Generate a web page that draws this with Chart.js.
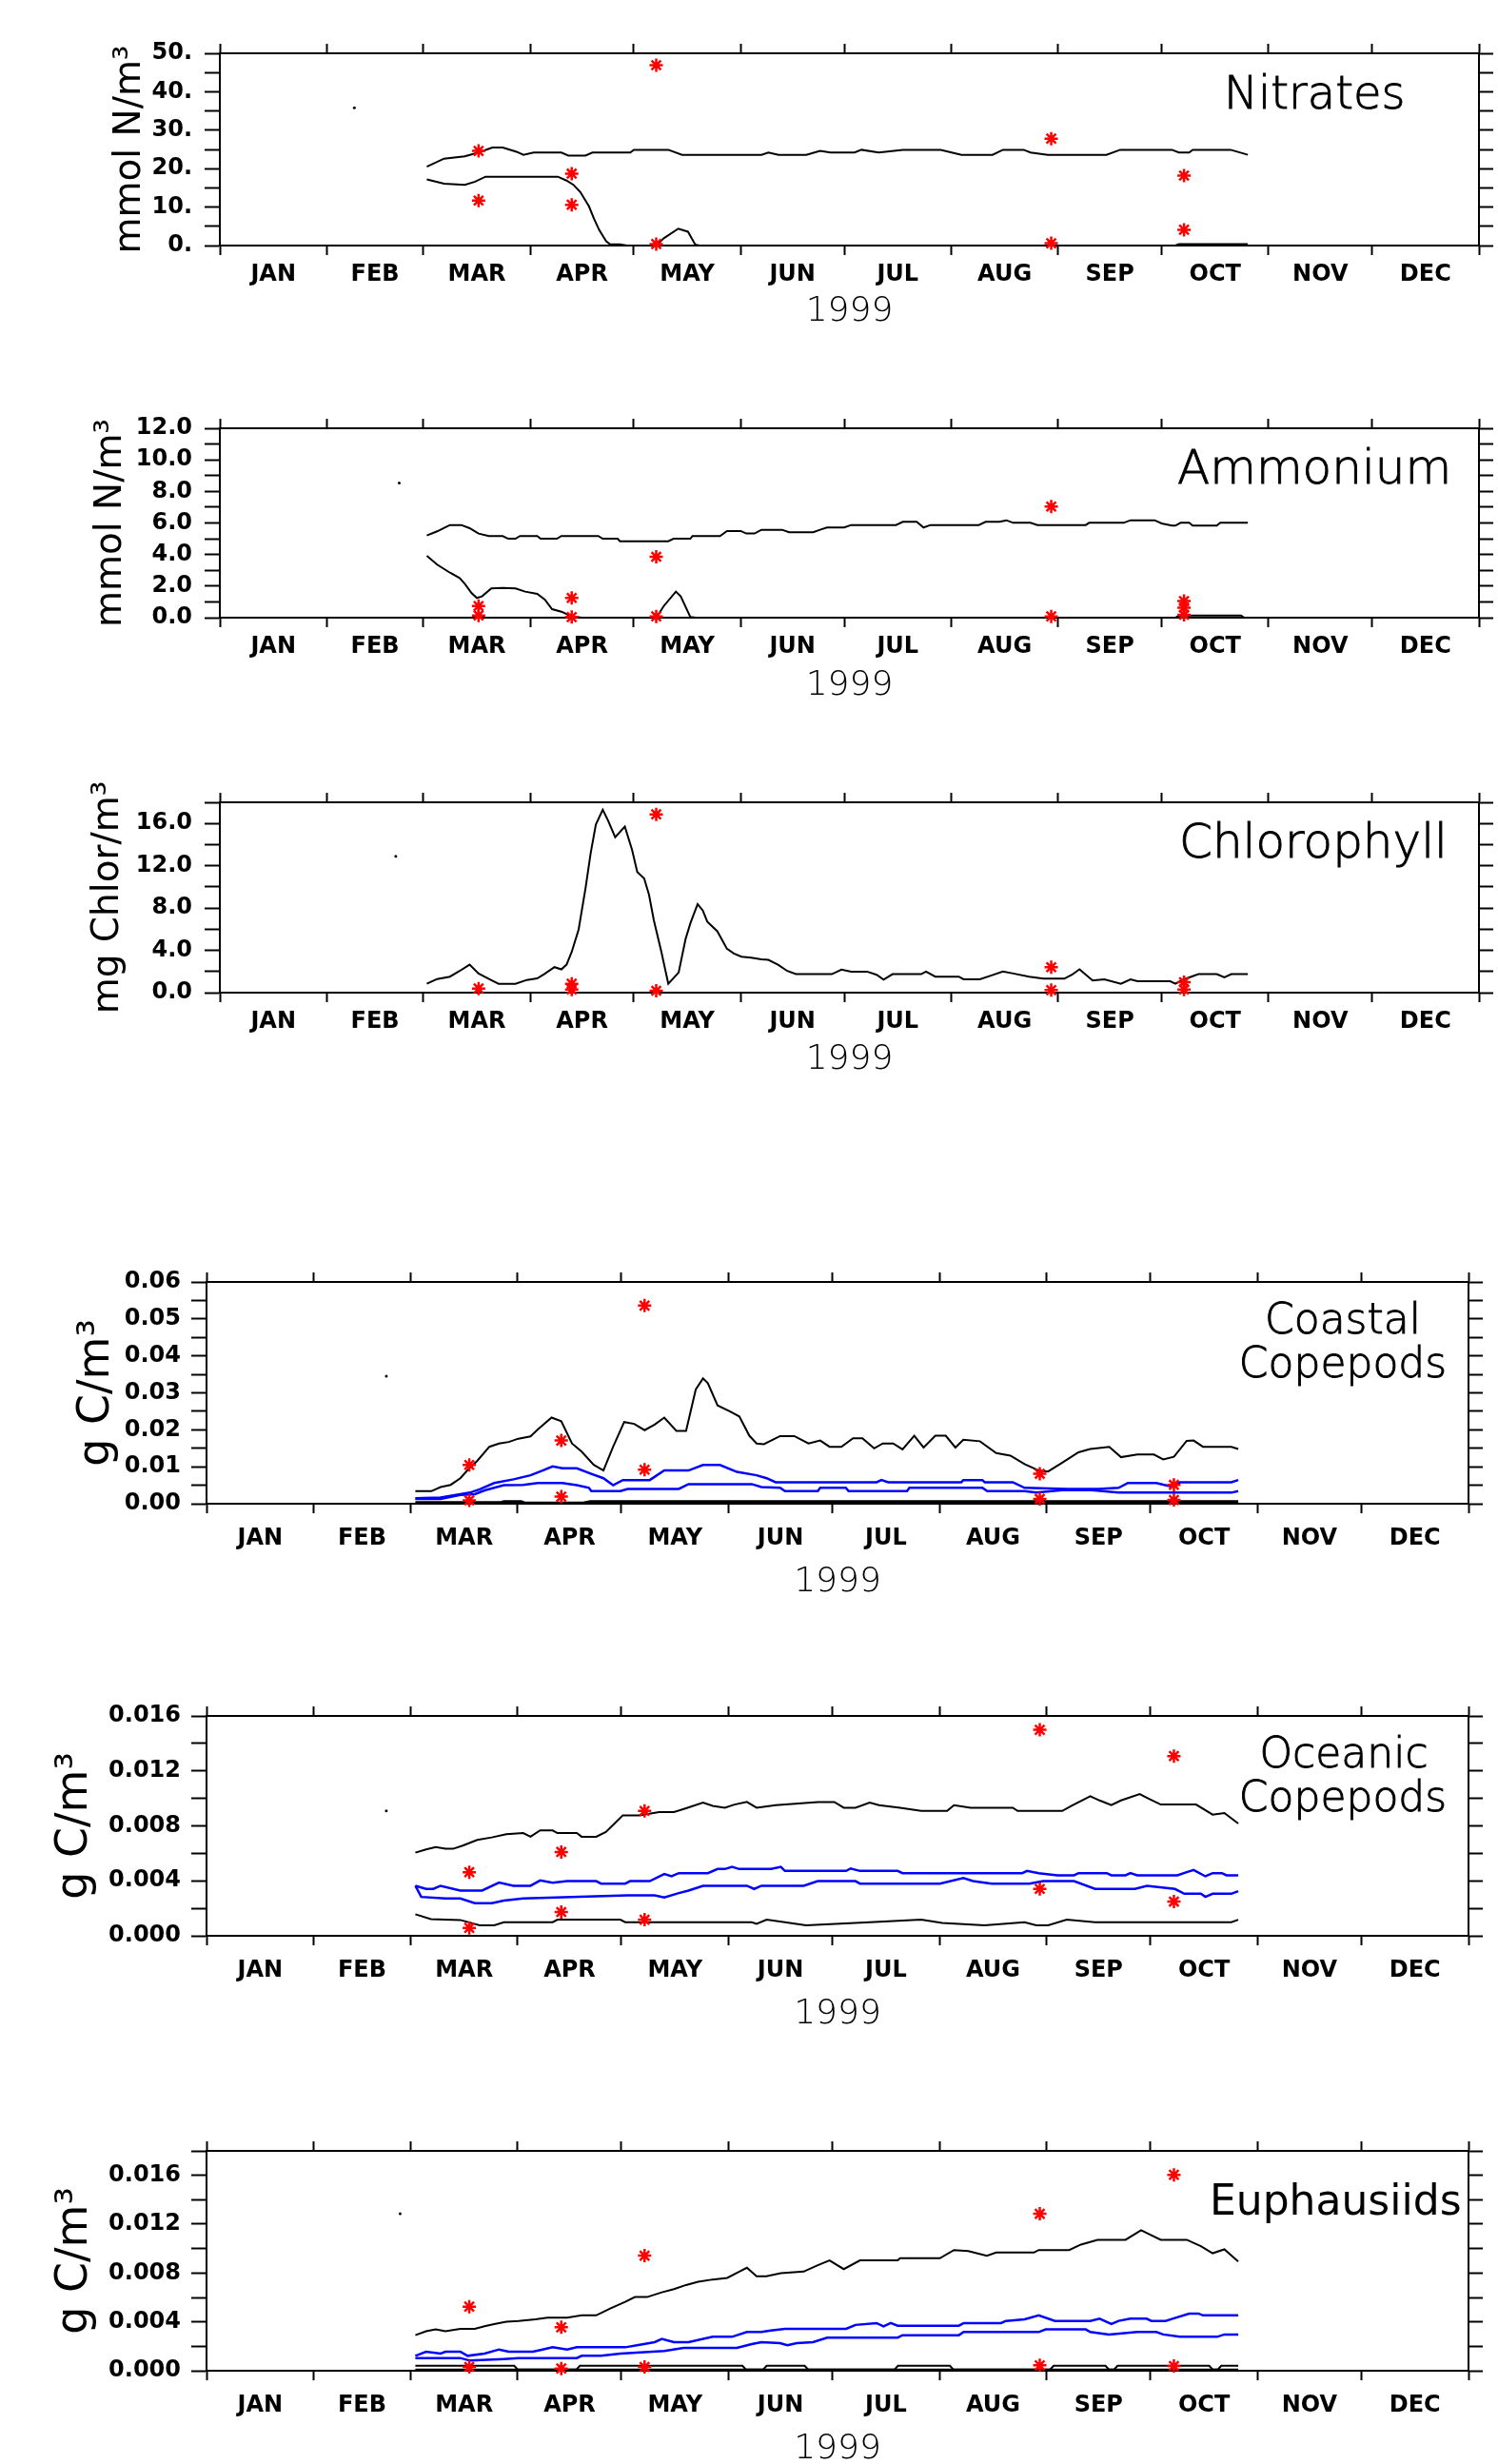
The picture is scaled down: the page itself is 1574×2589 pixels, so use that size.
<!DOCTYPE html>
<html>
<head>
<meta charset="utf-8">
<script src="https://cdn.jsdelivr.net/npm/chart.js@4.4.1/dist/chart.umd.min.js"></script>
<style>
  body { margin: 0; background: #fff; }
  #page { position: relative; width: 1574px; height: 2589px; overflow: hidden; background: #fff; }
  #page canvas { position: absolute; left: 0; }
</style>
</head>
<body>
<div id="page"></div>
<script>
// ---- x axis: day of year 1999 ----
const monthNames = ["JAN", "FEB", "MAR", "APR", "MAY", "JUN", "JUL", "AUG", "SEP", "OCT", "NOV", "DEC"];
const monthStarts = [0, 31, 59, 90, 120, 151, 181, 212, 243, 273, 304, 334, 365];
const yearLabel = "1999";

// ---- Nitrates (mmol N/m3) ----
const nitratesMax = [[60,20.5],[65,22.6],[71,23.2],[75,24.2],[79,25.5],[82,25.5],[86,24.4],[88,23.6],[91,24.2],[99,24.2],[101,23.4],[106,23.4],[108,24.2],[119,24.2],[120,24.9],[130,24.9],[134,23.6],[157,23.6],[159,24.2],[162,23.6],[170,23.6],[174,24.6],[177,24.2],[184,24.2],[186,24.9],[191,24.2],[198,24.9],[209,24.9],[215,23.6],[224,23.6],[227,24.9],[233,24.9],[235,24.2],[240,23.6],[257,23.6],[261,24.9],[276,24.9],[278,24.2],[281,24.2],[282,24.9],[293,24.9],[298,23.6]];
const nitratesMin = [[60,17.2],[65,16.1],[71,15.8],[74,16.6],[77,17.9],[85,17.9],[98,17.9],[100.5,16.9],[102.5,15.8],[104.5,13.9],[107,10.2],[108.5,6.9],[110,4.0],[112,1.1],[113,0.4],[116,0.3],[118,0],[126.5,0],[128.7,1.9],[132.9,4.4],[135.7,3.6],[137.8,0.25],[139,0],[277,0],[278,0.35],[298,0.35]];
const nitratesObs = [[75,24.6],[75,11.7],[102,18.7],[102,10.6],[126.5,46.9],[126.5,0.4],[241,27.8],[241,0.6],[279.5,18.2],[279.5,4.1]];
const nitratesDot = [[39,35.8]];
const nitratesTicks = [0,5,10,15,20,25,30,35,40,45,50];

// ---- Ammonium (mmol N/m3) ----
const ammoniumMax = [[60,5.21],[63,5.47],[66.7,5.87],[70,5.87],[72.4,5.67],[75,5.33],[78,5.17],[82,5.17],[83.6,5.0],[85.7,5.0],[87,5.17],[92,5.17],[93,5.0],[97.7,5.0],[99,5.17],[109.7,5.17],[111,5.0],[115.3,5.0],[116,4.84],[130,4.84],[131.5,5.0],[136.4,5.0],[137,5.17],[145,5.17],[147,5.49],[151,5.49],[152.6,5.33],[155,5.33],[157,5.57],[163,5.57],[165,5.41],[172,5.41],[174,5.57],[176,5.71],[181,5.71],[183,5.87],[196,5.87],[198,6.07],[202,6.07],[204,5.71],[206,5.87],[220,5.87],[222,6.07],[226,6.07],[228,6.17],[230,6.01],[235,6.01],[237,5.87],[251,5.87],[252,6.01],[262,6.01],[264,6.17],[271,6.17],[273,5.97],[276,5.83],[277,5.83],[278.5,6.01],[281,6.01],[282,5.83],[289,5.83],[290,6.01],[298,6.01]];
const ammoniumMin = [[60,3.92],[63,3.36],[66.7,2.85],[69.5,2.51],[71,2.15],[73,1.55],[74.5,1.25],[76,1.35],[78.7,1.85],[82,1.89],[85.7,1.85],[88.5,1.65],[92,1.51],[94.2,1.15],[96.3,0.54],[99,0.38],[101,0.18],[103.3,0.04],[105,0],[126.5,0],[128.7,0.74],[132.2,1.65],[133.6,1.35],[136.4,0.04],[138,0],[277,0],[278,0.14],[296,0.14],[297,0]];
const ammoniumObs = [[75,0.74],[75,0.14],[102,1.25],[102,0.04],[126.5,3.86],[126.5,0.08],[241,7.04],[241,0.08],[279.5,1.05],[279.5,0.64],[279.5,0.18]];
const ammoniumDot = [[52,8.54]];
const ammoniumTicks = [0,1,2,3,4,5,6,7,8,9,10,11,12];

// ---- Chlorophyll (mg Chlor/m3) ----
const chlorophyllModel = [[60,0.84],[63,1.29],[66.7,1.51],[69.5,2.05],[72.4,2.65],[75,1.81],[78,1.29],[80.8,0.84],[85.7,0.84],[89,1.2],[92,1.35],[94,1.75],[97,2.41],[99,2.2],[100.5,2.65],[102,3.85],[104,5.96],[106,9.87],[107.5,13.2],[109,15.9],[111,17.3],[112.5,16.3],[114.6,14.7],[117.4,15.7],[119.5,13.5],[121,11.4],[123,10.8],[124.4,9.27],[125.8,6.86],[128,3.85],[130,0.84],[133,1.9],[135,5.06],[136.4,6.56],[138.5,8.37],[140,7.77],[141.3,6.71],[144.2,5.81],[147,4.15],[149,3.7],[151.2,3.4],[154,3.31],[157,3.15],[159,3.1],[161.8,2.65],[164.5,2.05],[167,1.75],[177.4,1.75],[180.2,2.17],[183,1.99],[187.6,1.99],[190.4,1.69],[192.4,1.23],[195,1.75],[203.3,1.75],[204.7,1.99],[207.4,1.51],[214.2,1.51],[215.6,1.26],[220.3,1.26],[223.7,1.63],[227,1.99],[230,1.81],[234.6,1.51],[238.7,1.32],[244.8,1.32],[247,1.69],[249.2,2.2],[253,1.14],[256.4,1.26],[261.2,0.84],[264,1.26],[266,1.08],[275.5,1.08],[277,0.84],[279,1.2],[281.6,1.51],[283.7,1.75],[289,1.75],[291.2,1.44],[293.2,1.75],[298,1.75]];
const chlorophyllObs = [[75,0.39],[102,0.84],[102,0.3],[126.5,16.86],[126.5,0.18],[241,2.41],[241,0.24],[279.5,0.99],[279.5,0.3]];
const chlorophyllDot = [[51,12.9]];
const chlorophyllTicks = [0,2,4,6,8,10,12,14,16,18];

// ---- Coastal Copepods (g C/m3) ----
const coastalMax = [[60.4,0.0034],[65,0.0034],[67.7,0.0045],[70.6,0.0051],[73.4,0.0069],[76,0.0096],[78.3,0.0116],[81.8,0.0154],[84.6,0.0163],[87.4,0.0167],[90.2,0.0176],[93.7,0.0182],[95.8,0.0201],[99.8,0.0233],[102.6,0.0223],[105.7,0.0163],[108.5,0.0141],[112,0.0105],[114.8,0.009],[117.6,0.0154],[120.8,0.0221],[123.7,0.0216],[126.7,0.0199],[129.6,0.0214],[132.4,0.0233],[135.9,0.0197],[138.7,0.0197],[141.5,0.0309],[143.6,0.0339],[145,0.0326],[147.8,0.0266],[151.3,0.025],[154.1,0.0236],[157,0.0184],[159.1,0.0163],[161.2,0.0161],[165.9,0.0183],[170,0.0183],[174.1,0.0163],[177.5,0.0171],[180.2,0.0154],[183.6,0.0154],[187,0.0177],[189.7,0.0177],[193.1,0.015],[195.6,0.0163],[198.6,0.0163],[201.3,0.0147],[204.7,0.0184],[207.4,0.0152],[210.8,0.0184],[213.8,0.0184],[216.6,0.0152],[218.9,0.0173],[223.7,0.0169],[228.4,0.0137],[232.5,0.013],[236.6,0.0107],[240.7,0.009],[243.4,0.0087],[247.5,0.0111],[252.2,0.0139],[255.6,0.0148],[261.1,0.0154],[264.5,0.0126],[269.2,0.0133],[274,0.0133],[276.7,0.012],[279.8,0.0127],[283.5,0.017],[285.5,0.0171],[288.2,0.0154],[296.4,0.0154],[298.4,0.0148]];
const coastalBlueHi = [[60.4,0.0015],[67.7,0.0017],[76.2,0.003],[79,0.0039],[83.2,0.0056],[88.8,0.0066],[93.7,0.0077],[97.2,0.009],[100.1,0.0101],[102.9,0.0096],[107.1,0.0096],[111.3,0.0081],[114.8,0.0069],[117.6,0.005],[120.4,0.0064],[128.2,0.0064],[132.4,0.009],[139.4,0.009],[143.6,0.0105],[148.5,0.0105],[153.4,0.0086],[159.1,0.0077],[162,0.0069],[164.6,0.0058],[193.8,0.0058],[195.2,0.0064],[197.2,0.0058],[218.3,0.0058],[218.9,0.0064],[224.4,0.0064],[225.1,0.0058],[233.2,0.0058],[236.6,0.0043],[249,0.004],[258,0.004],[263.8,0.0043],[266.5,0.0056],[274.7,0.0056],[278.7,0.0047],[281.5,0.0058],[296.4,0.0058],[298.4,0.0064]];
const coastalBlueLo = [[60.4,0.0013],[67.7,0.0013],[73.4,0.0024],[77.6,0.0026],[80.4,0.0036],[86,0.005],[91.6,0.0051],[95.8,0.0056],[102.9,0.0056],[107.1,0.005],[110.6,0.0043],[111.3,0.0034],[119.7,0.0034],[121.8,0.004],[136.6,0.004],[139.4,0.0053],[157.7,0.0053],[160.5,0.0045],[165.9,0.0043],[167.3,0.0034],[176.8,0.0034],[177.5,0.0043],[184.9,0.0043],[185.7,0.0034],[202.6,0.0034],[203.3,0.0043],[224.4,0.0043],[225.8,0.0034],[236.6,0.0034],[240,0.003],[247.5,0.0037],[256,0.0037],[263.8,0.003],[296.4,0.003],[298.4,0.0034]];
const coastalMin = [[60.4,0.0003],[85,0.0003],[86,0.0006],[91,0.0006],[92,0.0002],[109,0.0002],[111,0.0006],[298.4,0.0006]];
const coastalObs = [[76,0.0105],[76,0.0009],[102.6,0.0171],[102.6,0.0019],[126.7,0.0536],[126.7,0.0092],[241,0.0081],[241,0.0013],[279.8,0.0051],[279.8,0.001]];
const coastalDot = [[52,0.0345]];
const coastalTicks = [0,0.005,0.01,0.015,0.02,0.025,0.03,0.035,0.04,0.045,0.05,0.055,0.06];

// ---- Oceanic Copepods (g C/m3) ----
const oceanicMax = [[60.4,0.00605],[63.5,0.00628],[66.3,0.00645],[69.1,0.00633],[71.3,0.00633],[74.1,0.00656],[78.3,0.00698],[82.5,0.00716],[86.7,0.00739],[91.6,0.00748],[93.7,0.00721],[96.5,0.00767],[100.1,0.00767],[101.5,0.00748],[107.1,0.00748],[108.5,0.00721],[112.7,0.00721],[115.5,0.00755],[118.3,0.00824],[120.4,0.00877],[125.3,0.00877],[130.9,0.009],[135.2,0.009],[138.7,0.00928],[143.6,0.00969],[146.4,0.00946],[149.9,0.00932],[152.7,0.00955],[156.3,0.00974],[159.1,0.00932],[164.6,0.00951],[176.8,0.00974],[181.6,0.00974],[184.3,0.00932],[187.7,0.00932],[191.8,0.00969],[194.5,0.00951],[200.6,0.00932],[206.7,0.00909],[214.2,0.00909],[216.2,0.00951],[221,0.00932],[233.2,0.00932],[234.6,0.00909],[247.5,0.00909],[250.2,0.00946],[255.6,0.01015],[258.3,0.00985],[261.7,0.00951],[264.5,0.00985],[269.9,0.01032],[272.6,0.00997],[276,0.00955],[286.2,0.00955],[291,0.00882],[294.4,0.00893],[298.4,0.00817]];
const oceanicBlueHi = [[60.4,0.00364],[63.5,0.00341],[65.6,0.00341],[67.7,0.00364],[73.4,0.00329],[79.7,0.00329],[84.6,0.00387],[88.8,0.00364],[93.7,0.00364],[96.5,0.00403],[100.1,0.00387],[104.3,0.00398],[112.7,0.00398],[114.1,0.0038],[121.1,0.0038],[122.5,0.00398],[128.2,0.00398],[132.4,0.00449],[134.5,0.00433],[136.6,0.00456],[145,0.00456],[147.8,0.00486],[149.9,0.00486],[152,0.00502],[154.1,0.00486],[163.3,0.00486],[166.1,0.00502],[167.3,0.00472],[185,0.00472],[186.3,0.0049],[189,0.00472],[199.9,0.00472],[201.3,0.00456],[235.9,0.00456],[237.3,0.00472],[240.7,0.00456],[246.1,0.0044],[250.9,0.0044],[252.2,0.00456],[260.4,0.00456],[261.7,0.0044],[265.8,0.0044],[267.2,0.00456],[269.2,0.0044],[280.8,0.0044],[283.5,0.00463],[285.5,0.00479],[288.9,0.00433],[291,0.00456],[293.7,0.00456],[295,0.0044],[298.4,0.0044]];
const oceanicBlueLo = [[60.4,0.00364],[62.1,0.00283],[69.1,0.00272],[73.4,0.00272],[77.6,0.00237],[82.5,0.00237],[86,0.00256],[91.6,0.00272],[121.8,0.00295],[129.6,0.00295],[132.4,0.00279],[136.6,0.00311],[139.4,0.00329],[143.6,0.00364],[156.3,0.00364],[158.4,0.00341],[160.5,0.00364],[172.7,0.00364],[176.8,0.00398],[187.7,0.00398],[189,0.0038],[212.1,0.0038],[218.9,0.00421],[221.7,0.00398],[227.1,0.0038],[238,0.0038],[242,0.00398],[250.9,0.00398],[257,0.00341],[268.5,0.00341],[272,0.00364],[280.1,0.00341],[282.8,0.00306],[287.6,0.00306],[288.9,0.00283],[291,0.00306],[296.4,0.00306],[298.4,0.00325]];
const oceanicMin = [[60.4,0.00157],[64.9,0.00122],[73.4,0.00115],[79,0.00076],[83.2,0.00076],[86,0.00099],[100.1,0.00099],[101.5,0.00117],[119.7,0.00117],[121.1,0.00099],[157.7,0.00099],[159.1,0.00087],[162,0.00117],[167.3,0.00099],[173.4,0.00076],[191.8,0.00099],[206.7,0.00117],[212.8,0.00094],[225,0.00076],[236.6,0.00099],[240,0.00076],[243.4,0.00076],[248.8,0.00117],[257,0.00099],[296.4,0.00099],[298.4,0.00117]];
const oceanicObs = [[76,0.00463],[76,0.00058],[102.6,0.0061],[102.6,0.00173],[126.7,0.00909],[126.7,0.00117],[241,0.01499],[241,0.00341],[279.8,0.01308],[279.8,0.00249]];
const oceanicDot = [[52,0.00909]];
const oceanicTicks = [0,0.002,0.004,0.006,0.008,0.01,0.012,0.014,0.016];

// ---- Euphausiids (g C/m3) ----
const euphMax = [[60.4,0.00291],[63.5,0.00323],[66.3,0.00338],[69.1,0.00323],[73.4,0.00343],[77.6,0.00343],[80.4,0.00364],[83.2,0.00382],[86.7,0.00401],[90.2,0.00408],[95.1,0.00421],[98.6,0.00434],[104.3,0.00434],[108.5,0.00453],[112.7,0.00453],[116.9,0.00512],[121.1,0.00564],[123.9,0.00603],[127.4,0.00603],[131.7,0.00642],[135.2,0.00668],[138.7,0.00702],[142.2,0.00728],[146.4,0.00747],[150.6,0.0076],[154.1,0.00812],[156.3,0.00843],[159.1,0.00773],[161.9,0.00773],[166.1,0.00799],[172.7,0.00812],[176.8,0.00864],[180.2,0.00903],[184.3,0.00832],[189,0.00903],[199.9,0.00903],[200.6,0.00921],[212.1,0.00921],[216.2,0.00988],[220.3,0.0098],[225.7,0.00942],[228.4,0.00968],[239.3,0.00968],[240.7,0.00988],[249.5,0.00988],[252.9,0.01033],[257.7,0.01072],[265.8,0.01072],[270.3,0.0115],[276,0.01072],[283.5,0.01072],[287.6,0.0102],[291,0.00962],[294.4,0.00994],[298.4,0.00895]];
const euphBlueHi = [[60.4,0.00122],[63.5,0.00156],[67.7,0.0014],[69.1,0.00156],[73.4,0.00156],[75.5,0.00122],[80.4,0.0014],[84.6,0.00174],[87.4,0.00156],[94.4,0.00156],[97.2,0.00174],[100.1,0.00192],[104.3,0.00174],[107.1,0.00192],[121.1,0.00192],[125.3,0.00213],[129.6,0.00234],[131.7,0.0026],[135.2,0.00234],[139.4,0.00234],[146.4,0.00278],[152,0.00278],[156.3,0.00317],[160.5,0.00317],[163.2,0.0033],[167.3,0.00343],[185,0.00343],[187.7,0.00375],[193.8,0.0039],[195.8,0.00364],[197.9,0.0039],[199.9,0.00369],[217.6,0.00369],[219,0.0039],[229.8,0.0039],[231.2,0.00408],[236.6,0.00421],[240.7,0.00453],[245.4,0.00408],[255.6,0.00408],[258.3,0.00426],[261.7,0.00382],[263.8,0.00408],[267.2,0.00426],[271.9,0.00426],[273.3,0.00408],[277.4,0.00408],[279.4,0.00426],[284.2,0.00468],[286.9,0.00468],[288.2,0.00453],[298.4,0.00453]];
const euphBlueLo = [[60.4,0.00104],[73.4,0.00104],[76.2,0.00083],[86,0.00096],[90.2,0.00104],[107.1,0.00104],[108.5,0.00122],[114.1,0.00122],[119.7,0.0014],[132.4,0.00161],[138,0.00187],[153.4,0.00187],[157.7,0.00218],[160.5,0.00234],[165.9,0.00226],[168,0.00208],[170.7,0.00226],[175.4,0.00234],[179.5,0.00271],[199.9,0.00271],[201.3,0.00291],[217.6,0.00291],[219,0.00317],[240.7,0.00317],[242.7,0.00338],[254.3,0.00338],[255.6,0.00317],[261,0.00297],[269.2,0.00317],[274.7,0.00317],[276.7,0.00297],[281.5,0.00278],[292.3,0.00278],[294.4,0.00297],[298.4,0.00297]];
const euphMinA = [[60.4,0.0004],[89,0.0004],[90,0.0001],[107,0.0001],[108,0.0004],[155,0.0004],[156,0.0001],[161,0.0001],[162,0.0004],[173,0.0004],[174,0.0001],[199,0.0001],[200,0.0004],[215,0.0004],[216,0.0001],[244,0.0001],[245,0.0004],[260,0.0004],[261,0.0001],[262.5,0.0001],[263.5,0.0004],[290,0.0004],[291,0.0001],[292.5,0.0001],[293.5,0.0004],[298.4,0.0004]];
const euphMinB = [[60.4,0.0001],[298.4,0.0001]];
const euphObs = [[76,0.00525],[76,0.00031],[102.6,0.00356],[102.6,0.00018],[126.7,0.00942],[126.7,0.00031],[241,0.01285],[241,0.00044],[279.8,0.01604],[279.8,0.00039]];
const euphDot = [[56,0.01285]];
const euphTicks = [0,0.002,0.004,0.006,0.008,0.01,0.012,0.014,0.016,0.018];

// ---- helpers ----
const BLACK = "#000000";
const BLUE = "#0000ff";
const RED = "#ff0000";
const PAD_TOP = 40;

const monthMids = monthNames.map((m, i) => (monthStarts[i] + monthStarts[i + 1]) / 2);
const xTickValues = monthStarts.concat(monthMids).sort((a, b) => a - b);

function pts(arr) {
  return arr.map(p => ({ x: p[0], y: p[1] }));
}

function line(arr, color, width) {
  return { data: pts(arr), borderColor: color, borderWidth: width, pointRadius: 0, fill: false, tension: 0, order: 2 };
}

// text drawn inside the plot (panel name)
const panelText = {
  id: "panelText",
  afterDraw(chart, args, opts) {
    const ctx = chart.ctx;
    ctx.save();
    ctx.fillStyle = BLACK;
    ctx.strokeStyle = BLACK;
    ctx.textBaseline = "alphabetic";
    opts.lines.forEach(l => {
      ctx.font = l.font;
      ctx.textAlign = l.align;
      ctx.fillText(l.text, l.x, l.y - opts.offset);
      if (l.stroke) {
        // thin font looks too grey, give it a bit of body
        ctx.lineWidth = l.stroke;
        ctx.strokeText(l.text, l.x, l.y - opts.offset);
      }
    });
    ctx.restore();
  }
};

function drawPanel(p) {
  const canvas = document.createElement("canvas");
  const top = p.top - PAD_TOP;
  canvas.width = 1574;
  canvas.height = PAD_TOP + (p.bottom - p.top) + p.xAxisH;
  canvas.style.top = top + "px";
  document.getElementById("page").appendChild(canvas);

  const datasets = [
    { data: pts(p.obs), showLine: false, pointStyle: "star", pointRadius: 7, borderColor: RED, borderWidth: 2.5, clip: false, order: 0 },
    { data: pts(p.dot), showLine: false, pointRadius: 1.5, pointBackgroundColor: BLACK, borderWidth: 0, order: 1 }
  ].concat(p.lines);

  const tickFont = { family: "DejaVu Sans", weight: "bold", size: 24 };

  new Chart(canvas, {
    type: "line",
    data: { datasets: datasets },
    options: {
      responsive: false,
      animation: false,
      devicePixelRatio: 1,
      events: [],
      layout: { padding: 0 },
      plugins: {
        legend: { display: false },
        tooltip: { enabled: false },
        panelText: { lines: p.labels, offset: top }
      },
      scales: {
        x: {
          type: "linear", position: "bottom", min: 0, max: 365,
          afterBuildTicks: s => { s.ticks = xTickValues.map(v => ({ value: v })); },
          afterFit: s => { s.height = p.xAxisH; },
          grid: {
            drawOnChartArea: false, tickLength: 10, tickWidth: 2,
            tickColor: c => (c.tick && monthStarts.includes(c.tick.value)) ? BLACK : "rgba(0,0,0,0)"
          },
          border: { color: BLACK, width: 2 },
          ticks: {
            autoSkip: false, maxRotation: 0, padding: p.xPad, color: BLACK, font: tickFont,
            callback: v => { const i = monthMids.indexOf(v); return i >= 0 ? monthNames[i] : ""; }
          },
          title: { display: true, text: yearLabel, color: BLACK, padding: 0, font: { family: "DejaVu Sans", size: 36, weight: "200" } }
        },
        xTop: {
          type: "linear", position: "top", min: 0, max: 365,
          afterBuildTicks: s => { s.ticks = monthStarts.map(v => ({ value: v })); },
          afterFit: s => { s.height = PAD_TOP; },
          grid: { drawOnChartArea: false, tickLength: 10, tickWidth: 2, tickColor: BLACK },
          border: { color: BLACK, width: 2 },
          ticks: { display: false }
        },
        y: {
          type: "linear", position: "left", min: 0, max: p.ymax,
          afterBuildTicks: s => { s.ticks = p.yTicks.map(v => ({ value: v })); },
          afterFit: s => { s.width = p.left; },
          grid: { drawOnChartArea: false, tickLength: 16, tickWidth: 2, tickColor: BLACK },
          border: { color: BLACK, width: 2 },
          ticks: { autoSkip: false, padding: p.yPad, color: BLACK, font: tickFont, callback: p.yFormat },
          title: { display: true, text: p.yTitle, color: BLACK, padding: { top: p.yTitlePad, bottom: 0 }, font: { family: "DejaVu Sans", size: p.yTitleSize } }
        },
        yRight: {
          type: "linear", position: "right", min: 0, max: p.ymax,
          afterBuildTicks: s => { s.ticks = p.yTicks.map(v => ({ value: v })); },
          afterFit: s => { s.width = 1574 - p.right; },
          grid: { drawOnChartArea: false, tickLength: 15, tickWidth: 2, tickColor: BLACK },
          border: { color: BLACK, width: 2 },
          ticks: { display: false }
        }
      }
    },
    plugins: [panelText]
  });
}

const lightFont = size => "200 " + size + "px 'DejaVu Sans'";

// ---- the six panels ----
drawPanel({
  top: 56, bottom: 258, left: 231, right: 1554, xAxisH: 91, xPad: 6, yPad: 13,
  ymax: 50, yTicks: nitratesTicks, yFormat: v => (v % 10 === 0 ? v + "." : ""),
  yTitle: "mmol N/m\u00b3", yTitleSize: 39, yTitlePad: 113,
  obs: nitratesObs, dot: nitratesDot,
  lines: [line(nitratesMax, BLACK, 2), line(nitratesMin, BLACK, 2)],
  labels: [{ text: "Nitrates", x: 1286, y: 114, align: "left", font: lightFont(48), stroke: 0.9 }]
});

drawPanel({
  top: 450, bottom: 649, left: 231, right: 1554, xAxisH: 93, xPad: 6, yPad: 13,
  ymax: 12, yTicks: ammoniumTicks, yFormat: v => (v % 2 === 0 ? v.toFixed(1) : ""),
  yTitle: "mmol N/m\u00b3", yTitleSize: 39, yTitlePad: 93,
  obs: ammoniumObs, dot: ammoniumDot,
  lines: [line(ammoniumMax, BLACK, 2), line(ammoniumMin, BLACK, 2)],
  labels: [{ text: "Ammonium", x: 1237, y: 508, align: "left", font: lightFont(50), stroke: 0.9 }]
});

drawPanel({
  top: 843, bottom: 1043, left: 231, right: 1554, xAxisH: 92, xPad: 6, yPad: 13,
  ymax: 18, yTicks: chlorophyllTicks, yFormat: v => (v % 4 === 0 ? v.toFixed(1) : ""),
  yTitle: "mg Chlor/m\u00b3", yTitleSize: 39, yTitlePad: 90,
  obs: chlorophyllObs, dot: chlorophyllDot,
  lines: [line(chlorophyllModel, BLACK, 2)],
  labels: [{ text: "Chlorophyll", x: 1239, y: 901, align: "left", font: lightFont(50), stroke: 0.9 }]
});

drawPanel({
  top: 1347, bottom: 1580, left: 217, right: 1543, xAxisH: 104, xPad: 12, yPad: 11,
  ymax: 0.06, yTicks: coastalTicks, yFormat: v => (Math.round(v * 1000) % 10 === 0 ? v.toFixed(2) : ""),
  yTitle: "g C/m\u00b3", yTitleSize: 46, yTitlePad: 74,
  obs: coastalObs, dot: coastalDot,
  lines: [line(coastalMax, BLACK, 2), line(coastalBlueHi, BLUE, 2.5), line(coastalBlueLo, BLUE, 2.5), line(coastalMin, BLACK, 3)],
  labels: [
    { text: "Coastal", x: 1411, y: 1401, align: "center", font: lightFont(44), stroke: 0.9 },
    { text: "Copepods", x: 1411, y: 1447, align: "center", font: lightFont(44), stroke: 0.9 }
  ]
});

drawPanel({
  top: 1803, bottom: 2034, left: 217, right: 1543, xAxisH: 104, xPad: 12, yPad: 11,
  ymax: 0.016, yTicks: oceanicTicks, yFormat: v => (Math.round(v * 1000) % 4 === 0 ? v.toFixed(3) : ""),
  yTitle: "g C/m\u00b3", yTitleSize: 46, yTitlePad: 51,
  obs: oceanicObs, dot: oceanicDot,
  lines: [line(oceanicMax, BLACK, 2), line(oceanicBlueHi, BLUE, 2.5), line(oceanicBlueLo, BLUE, 2.5), line(oceanicMin, BLACK, 2)],
  labels: [
    { text: "Oceanic", x: 1412, y: 1857, align: "center", font: lightFont(44), stroke: 0.9 },
    { text: "Copepods", x: 1411, y: 1903, align: "center", font: lightFont(44), stroke: 0.9 }
  ]
});

drawPanel({
  top: 2260, bottom: 2491, left: 217, right: 1543, xAxisH: 104, xPad: 12, yPad: 11,
  ymax: 0.018, yTicks: euphTicks, yFormat: v => (Math.round(v * 1000) % 4 === 0 ? v.toFixed(3) : ""),
  yTitle: "g C/m\u00b3", yTitleSize: 46, yTitlePad: 51,
  obs: euphObs, dot: euphDot,
  lines: [line(euphMax, BLACK, 2), line(euphBlueHi, BLUE, 2.5), line(euphBlueLo, BLUE, 2.5), line(euphMinA, BLACK, 2), line(euphMinB, BLACK, 2)],
  labels: [{ text: "Euphausiids", x: 1271, y: 2327, align: "left", font: "normal 44px 'DejaVu Sans'" }]
});
</script>
</body>
</html>
